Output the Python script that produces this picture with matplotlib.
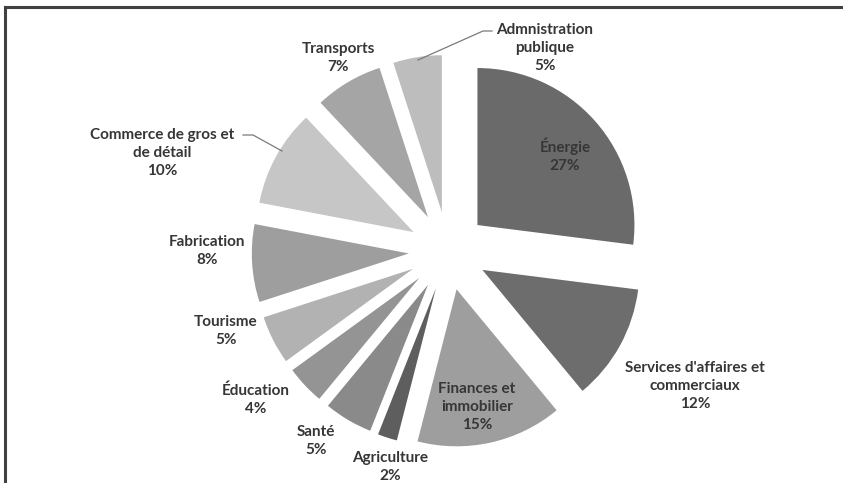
import matplotlib
matplotlib.use("Agg")
import matplotlib.pyplot as plt
from matplotlib.lines import Line2D

# Sector shares (%)
sectors = [
    "Énergie",
    "Services d'affaires et\ncommerciaux",
    "Finances et\nimmobilier",
    "Agriculture",
    "Santé",
    "Éducation",
    "Tourisme",
    "Fabrication",
    "Commerce de gros et\nde détail",
    "Transports",
    "Admnistration\npublique",
]
shares = [27, 12, 15, 2, 5, 4, 5, 8, 10, 7, 5]
colors = ["#6a6a6a", "#6d6d6d", "#9e9e9e", "#5e5e5e", "#8a8a8a", "#949494",
          "#b2b2b2", "#9e9e9e", "#c6c6c6", "#a5a5a5", "#bdbdbd"]

W, H = 843, 483
CX, CY, R = 448, 251, 157  # pie centre and radius, pixels

fig = plt.figure(figsize=(W / 100, H / 100), dpi=100)
fig.patch.set_facecolor("white")
ax = fig.add_axes([0, 0, 1, 1])


def px(x, y):
    """Pixel position (origin top-left) -> data coordinates."""
    return (x - CX) / R, (CY - y) / R


ax.pie(shares, colors=colors, startangle=90, counterclock=False,
       explode=[0.25] * len(shares), radius=1.0,
       wedgeprops=dict(linewidth=0))
ax.set_xlim(-CX / R, (W - CX) / R)
ax.set_ylim(-(H - CY) / R, CY / R)
ax.set_aspect("equal")
ax.axis("off")

# label block centres in pixels
label_pos = [(565, 155), (695, 386), (477, 407), (390, 467), (316, 441),
             (256, 400), (226, 331), (207, 251), (162, 153), (338, 58),
             (545, 48)]
text_color = "#363636"
for name, val, (x, y) in zip(sectors, shares, label_pos):
    ax.text(*px(x, y), f"{name}\n{val}%", ha="center", va="center",
            fontsize=11, fontweight="bold", family="Lato",
            color=text_color, linespacing=1.35)

# leader lines
lc = "#7a7a7a"
for pts in ([(243, 135), (253, 135), (282, 151)],
            [(492, 31), (483, 31), (418, 60)]):
    xs, ys = zip(*[px(x, y) for x, y in pts])
    ax.add_line(Line2D(xs, ys, color=lc, lw=0.9))

# frame edges on top and left
fig.add_artist(Line2D([5 / W, 1], [1 - 7 / H, 1 - 7 / H], color="#404040",
                      lw=2.2, transform=fig.transFigure))
fig.add_artist(Line2D([5 / W, 5 / W], [0, 1 - 7 / H], color="#404040",
                      lw=2.2, transform=fig.transFigure))

fig.savefig("out.png", dpi=100, facecolor="white")
